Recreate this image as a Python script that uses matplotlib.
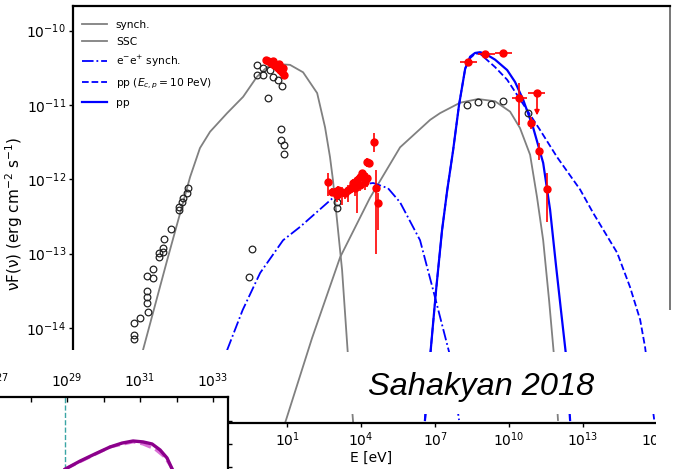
import numpy as np
import matplotlib
matplotlib.use('Agg')
import matplotlib.pyplot as plt
from matplotlib.patches import Rectangle
from matplotlib.ticker import NullLocator, FixedLocator

W, H = 673, 469

# ---------------- model curves: log10(E/eV), log10(nuF) ----------------
synch_logE = [-5.36, -4.84, -3.86, -2.93, -2.53, -2.12, -1.43, -0.78, -0.22, 0.19, 0.60,
              1.12, 1.65, 2.22, 2.54, 2.74, 2.86, 3.23, 3.47, 3.68]
synch_logF = [-14.97, -14.30, -13.09, -11.97, -11.58, -11.36, -11.11, -10.89, -10.62, -10.49, -10.45,
              -10.46, -10.56, -10.84, -11.30, -11.70, -12.01, -13.22, -14.38, -15.28]

ssc_logE = [0.92, 2.01, 3.15, 4.36, 5.58, 6.80, 7.20, 8.01, 8.74, 9.43, 10.04, 10.44,
            10.85, 11.13, 11.38, 11.62, 11.82, 11.98]
ssc_logF = [-15.28, -14.14, -13.05, -12.25, -11.57, -11.20, -11.11, -10.97, -10.92, -10.95, -11.09, -11.31,
            -11.67, -12.24, -12.82, -13.63, -14.38, -15.24]

ee_logE = [-1.43, -0.80, -0.09, 0.84, 1.53, 2.86, 3.84, 4.49, 5.09, 5.58, 6.39, 6.92, 7.61, 7.97]
ee_logF = [-14.30, -13.76, -13.26, -12.82, -12.64, -12.25, -12.08, -12.05, -12.12, -12.31, -12.82,
           -13.49, -14.38, -15.24]

ppc_logE = [6.59, 6.80, 7.04, 7.28, 7.49, 7.73, 7.97, 8.22, 8.42, 8.62, 8.82, 9.43, 9.92, 10.73,
            11.26, 11.94, 12.88, 13.40, 14.38, 14.90, 15.31, 15.51, 15.88]
ppc_logF = [-15.24, -14.38, -13.49, -12.69, -12.15, -11.61, -11.00, -10.51, -10.37, -10.31, -10.31,
            -10.49, -10.66, -11.07, -11.34, -11.70, -12.14, -12.45, -12.99, -13.45, -13.89, -14.26, -15.24]

pp_logE = [6.59, 6.80, 7.04, 7.28, 7.49, 7.73, 7.97, 8.22, 8.42, 8.62, 8.82, 9.03, 9.43, 9.92,
           10.24, 10.57, 10.97, 11.38, 11.66, 11.90, 12.10, 12.31, 12.47]
pp_logF = [-15.24, -14.38, -13.49, -12.69, -12.15, -11.61, -11.00, -10.51, -10.35, -10.30, -10.29,
           -10.31, -10.39, -10.53, -10.69, -10.93, -11.30, -11.78, -12.41, -13.16, -13.76, -14.38, -15.24]

# ---------------- archival data (open circles) ----------------
obs_logE = [-3.01, -3.05, -3.22, -3.26, -3.38, -3.38, -3.70, -3.99, -4.03, -4.19, -4.19, -4.03,
            -4.43, -4.67, -4.43, -4.67, -4.67, -4.67, -4.63, -4.96, -5.20, -5.20, -5.20,
            -0.42, -0.54,
            -0.22, 0.03, 0.31, -0.22, 0.03, 0.43, 0.64, 0.80, 0.23, 0.76, 0.76, 0.88, 0.88,
            3.03, 3.03,
            8.30, 8.74, 9.27, 9.76, 10.77]
obs_logF = [-12.12, -12.18, -12.25, -12.31, -12.37, -12.41, -12.67, -12.80, -12.92, -12.99, -13.05, -12.98,
            -13.21, -13.30, -13.33, -13.50, -13.58, -13.67, -13.79, -13.87, -13.93, -14.10, -14.15,
            -12.94, -13.32,
            -10.46, -10.50, -10.53, -10.60, -10.60, -10.62, -10.66, -10.74, -10.91, -11.32, -11.47, -11.54, -11.66,
            -12.31, -12.39,
            -11.00, -10.96, -10.99, -10.95, -11.11]

# ---------------- flare data (red) ----------------
opt_logE = [0.15, 0.23, 0.35, 0.43, 0.47, 0.55, 0.64, 0.68, 0.72, 0.80, 0.84, 0.88]
opt_logF = [-10.39, -10.41, -10.44, -10.41, -10.46, -10.48, -10.50, -10.45, -10.53, -10.56, -10.50, -10.60]

xr_logE = [2.66, 2.82, 2.95, 3.03, 3.07, 3.23, 3.35, 3.47, 3.63, 3.68, 3.76, 3.84, 3.96, 3.96,
           4.04, 4.08, 4.16, 4.24, 4.24, 4.32, 4.53, 4.61, 4.69]
xr_logF = [-12.04, -12.17, -12.17, -12.21, -12.14, -12.17, -12.18, -12.14, -12.10, -12.05, -12.12,
           -12.01, -11.97, -12.08, -11.92, -11.94, -12.04, -11.77, -11.98, -11.78, -11.50, -12.12, -12.32]
xr_err_lo = [0.18, 0.06, 0.08, 0.10, 0.06, 0.17, 0.08, 0.16, 0.08, 0.06, 0.10, 0.45, 0.06, 0.08,
             0.06, 0.08, 0.10, 0.06, 0.12, 0.06, 0.13, 0.88, 0.36]
xr_err_hi = [0.13, 0.05, 0.05, 0.06, 0.05, 0.06, 0.05, 0.06, 0.05, 0.05, 0.06, 0.06, 0.05, 0.05,
             0.05, 0.05, 0.06, 0.05, 0.06, 0.05, 0.12, 0.24, 0.13]

g_logE = [8.34, 9.03, 9.76, 10.40, 10.89, 11.21, 11.54]
g_logF = [-10.42, -10.31, -10.30, -10.91, -11.24, -11.62, -12.13]
g_xlo = [0.33, 0.28, 0.33, 0.28, 0.0, 0.0, 0.0]
g_xhi = [0.36, 0.40, 0.36, 0.33, 0.0, 0.0, 0.0]
g_ylo = [0.0, 0.0, 0.0, 0.36, 0.08, 0.12, 0.44]
g_yhi = [0.0, 0.0, 0.0, 0.20, 0.08, 0.11, 0.22]

ul_logE = [11.13]
ul_logF = [-10.84]
ul_len = [0.30]
ul_xlo = [0.36]
ul_xhi = [0.33]

xtick_exp = [-5, -2, 1, 4, 7, 10, 13, 16]
ytick_exp = [-15, -14, -13, -12, -11, -10]

# ---------------- inset fragment (lower-left) ----------------
ins_logx = [28.95, 29.36, 29.77, 30.18, 30.51, 30.81, 31.08, 31.33, 31.55, 31.74, 31.88]
ins_y = [-0.09, 0.26, 0.57, 0.87, 1.04, 1.13, 1.09, 1.00, 0.74, 0.39, -0.09]
ins_dash_logx = [28.95, 30.18, 30.81, 31.08, 31.41, 31.68, 31.82, 31.90]
ins_dash_y = [-0.09, 0.87, 1.09, 1.00, 0.78, 0.43, 0.09, -0.13]
ins_vline_logx = 28.95
ins_tick_exp = [27, 28, 29, 30, 31, 32, 33]


def p10(a):
    return 10.0 ** np.asarray(a, dtype=float)


def asym(logv, lo, hi):
    v = p10(logv)
    return np.vstack([v - p10(np.asarray(logv) - np.asarray(lo)),
                      p10(np.asarray(logv) + np.asarray(hi)) - v])


fig = plt.figure(figsize=(W / 100, H / 100), dpi=100)
ax = fig.add_axes([73 / W, 1 - 423 / H, (670 - 73) / W, (423 - 6) / H])
ax.set_xscale('log')
ax.set_yscale('log')

gray = '#808080'
blue = '#0000ff'
red = '#ff0000'

ax.plot(p10(synch_logE), p10(synch_logF), color=gray, lw=1.3, label='synch.')
ax.plot(p10(ssc_logE), p10(ssc_logF), color=gray, lw=1.3, label='SSC')
ax.plot(p10(ee_logE), p10(ee_logF), color=blue, lw=1.3, ls='-.', label=r'e$^{-}$e$^{+}$ synch.')
ax.plot(p10(ppc_logE), p10(ppc_logF), color=blue, lw=1.3, ls='--', label=r'pp ($E_{c,p} = 10$ PeV)')
ax.plot(p10(pp_logE), p10(pp_logF), color=blue, lw=1.6, label='pp')

ax.plot(p10(obs_logE), p10(obs_logF), ls='none', marker='o', ms=4.8, mfc='none',
        mec='#222222', mew=0.9, zorder=4)

ax.plot(p10(opt_logE), p10(opt_logF), ls='none', marker='o', ms=5, color=red, zorder=5)
ax.errorbar(p10(xr_logE), p10(xr_logF), yerr=asym(xr_logF, xr_err_lo, xr_err_hi),
            fmt='o', ms=5, color=red, ecolor=red, elinewidth=1.2, capsize=0, zorder=5)
ax.errorbar(p10(g_logE), p10(g_logF), yerr=asym(g_logF, g_ylo, g_yhi),
            xerr=asym(g_logE, g_xlo, g_xhi),
            fmt='o', ms=5, color=red, ecolor=red, elinewidth=1.2, capsize=0, zorder=5)
ax.errorbar(p10(ul_logE), p10(ul_logF), xerr=asym(ul_logE, ul_xlo, ul_xhi),
            fmt='o', ms=5, color=red, ecolor=red, elinewidth=1.2, capsize=0, zorder=5)
for le, lf, ln in zip(ul_logE, ul_logF, ul_len):
    ax.annotate('', xy=(10 ** le, 10 ** (lf - ln)), xytext=(10 ** le, 10 ** lf),
                arrowprops=dict(arrowstyle='-|>', color=red, lw=1.2, mutation_scale=7,
                                shrinkA=0, shrinkB=0), zorder=5)

ax.set_xlim(10 ** -7.675, 10 ** 16.52)
ax.set_ylim(10 ** -15.28, 10 ** -9.668)
ax.xaxis.set_major_locator(FixedLocator([10.0 ** k for k in xtick_exp]))
ax.xaxis.set_minor_locator(NullLocator())
ax.yaxis.set_major_locator(FixedLocator([10.0 ** k for k in ytick_exp]))
ax.yaxis.set_minor_locator(NullLocator())
ax.tick_params(axis='both', labelsize=10, length=3, width=1, pad=2)
ax.set_xlabel('E [eV]', fontsize=10, labelpad=2)
ax.set_ylabel(r'νF(ν) (erg cm$^{-2}$ s$^{-1}$)', fontsize=11)
ax.yaxis.set_label_coords(-0.080, 0.5)
for s in ['left', 'top', 'bottom']:
    ax.spines[s].set_linewidth(1.6)
    ax.spines[s].set_color('black')
ax.spines['right'].set_color('#777777')
ax.spines['right'].set_linewidth(1.4)

ax.legend(loc='upper left', bbox_to_anchor=(0.0, 0.988), frameon=False, fontsize=7.7,
          handlelength=2.35, labelspacing=0.68, borderaxespad=0.4, handletextpad=0.85)

# ---------------- overlays (slide composition) ----------------
def white_box(x0, y0, x1, y1, z=5):
    fig.add_artist(Rectangle((x0 / W, 1 - y1 / H), (x1 - x0) / W, (y1 - y0) / H,
                             transform=fig.transFigure, facecolor='white',
                             edgecolor='none', zorder=z))

white_box(0, 350, 228, 469)
white_box(320, 352, 673, 414)
white_box(663, 310, 673, 469)
white_box(656, 414, 673, 469)

fig.text(368 / W, 1 - 395 / H, 'Sahakyan 2018', fontsize=23.4, fontstyle='italic',
         family='Liberation Sans', va='baseline', ha='left', zorder=11)

# inset extends slightly past the left edge of the figure (it is cropped there)
ins_left_px = -24
px_per_dec = 36.5
ins = fig.add_axes([ins_left_px / W, 0, (228 - ins_left_px) / W, 72 / H], zorder=10)
ins.patch.set_alpha(0)
ins.set_xscale('log')
ins.plot(p10(ins_logx), ins_y, color='#8b008b', lw=2.4, zorder=3)
ins.plot(p10(ins_dash_logx), ins_dash_y, color='#da70d6', lw=2.2, ls='--', zorder=2)
ins.axvline(10 ** ins_vline_logx, color='#3aa5a5', lw=1.0, ls='--')
ins.set_xlim(10 ** (27.164 + ins_left_px / px_per_dec), 10 ** 33.41)
ins.set_ylim(-0.087, 3.04)
ins.xaxis.set_major_locator(FixedLocator([10.0 ** k for k in ins_tick_exp]))
ins.xaxis.set_minor_locator(NullLocator())
ins.set_xticklabels([r'$10^{%d}$' % k if k % 2 == 1 else '' for k in ins_tick_exp])
ins.xaxis.tick_top()
ins.yaxis.tick_right()
ins.set_yticks([0, 1, 2])
ins.tick_params(axis='x', direction='in', length=3.5, width=1, pad=5, labelsize=10)
ins.tick_params(axis='y', direction='out', length=3, width=1, labelright=False)
ins.spines['left'].set_visible(False)
ins.spines['bottom'].set_visible(False)
for s in ['top', 'right']:
    ins.spines[s].set_linewidth(1.6)

fig.savefig('out.png', dpi=100)
